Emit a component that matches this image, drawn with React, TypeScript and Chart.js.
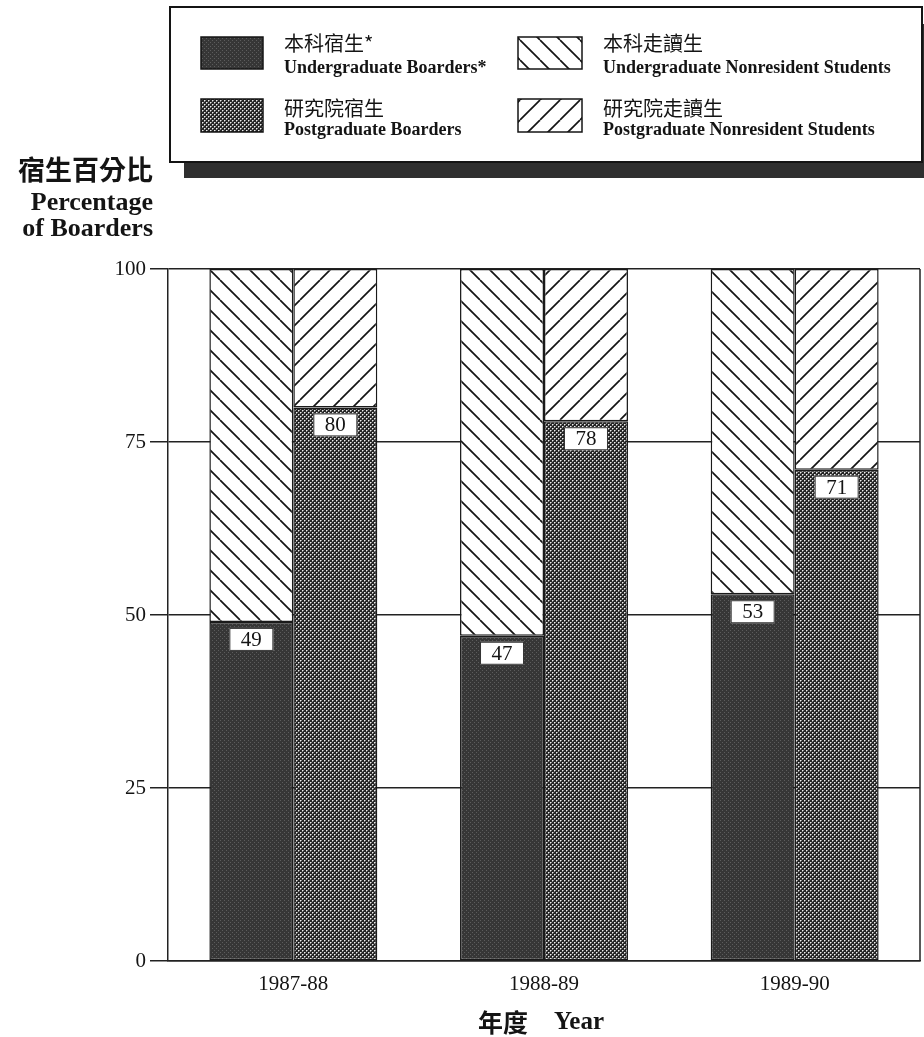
import React, { useEffect, useRef } from "react";
import { Chart, registerables } from "chart.js";

Chart.register(...registerables);

const years = ["1987-88", "1988-89", "1989-90"];
const ugBoarders = [49, 47, 53];
const pgBoarders = [80, 78, 71];
const ugNonresident = [51, 53, 47];
const pgNonresident = [20, 22, 29];
const yTickValues = [0, 25, 50, 75, 100];
const legendCJK = ["本科宿生*", "本科走讀生", "研究院宿生", "研究院走讀生"];
const legendEN = [
  "Undergraduate Boarders*",
  "Undergraduate Nonresident Students",
  "Postgraduate Boarders",
  "Postgraduate Nonresident Students",
];
const yTitleCJK = "宿生百分比";
const yTitleEN = ["Percentage", "of Boarders"];
const xTitleCJK = "年度";
const xTitleEN = "Year";

const SERIF = "'Liberation Serif', 'Times New Roman', serif";
const CJK = "'Noto Sans CJK TC', 'Noto Sans CJK SC', sans-serif";
const INK = "#141414";

function makeTile(w: number, h: number, draw: (g: CanvasRenderingContext2D) => void) {
  const c = document.createElement("canvas");
  c.width = w;
  c.height = h;
  const g = c.getContext("2d")!;
  draw(g);
  return c;
}

function makePatterns(ctx: CanvasRenderingContext2D) {
  const ugTile = makeTile(4, 4, (g) => {
    g.fillStyle = "#363636";
    g.fillRect(0, 0, 4, 4);
    g.fillStyle = "#5c5c5c";
    g.fillRect(0, 0, 1, 1);
    g.fillRect(2, 2, 1, 1);
  });
  const pgTile = makeTile(4, 4, (g) => {
    g.fillStyle = "#262626";
    g.fillRect(0, 0, 4, 4);
    g.fillStyle = "#eeeeee";
    g.fillRect(0, 0, 1, 1);
    g.fillRect(2, 2, 1, 1);
    g.fillStyle = "#8c8c8c";
    g.fillRect(1, 0, 1, 1);
    g.fillRect(3, 2, 1, 1);
    g.fillRect(0, 1, 1, 1);
    g.fillRect(2, 3, 1, 1);
  });
  const hatch = (back: boolean) =>
    makeTile(20, 20, (g) => {
      g.fillStyle = "#ffffff";
      g.fillRect(0, 0, 20, 20);
      g.strokeStyle = "#141414";
      g.lineWidth = 1.7;
      for (const dx of [-20, 0, 20]) {
        g.beginPath();
        if (back) {
          g.moveTo(dx, 0);
          g.lineTo(dx + 20, 20);
        } else {
          g.moveTo(dx, 20);
          g.lineTo(dx + 20, 0);
        }
        g.stroke();
      }
    });
  return {
    ug: ctx.createPattern(ugTile, "repeat")!,
    pg: ctx.createPattern(pgTile, "repeat")!,
    ugN: ctx.createPattern(hatch(true), "repeat")!,
    pgN: ctx.createPattern(hatch(false), "repeat")!,
  };
}

export default function App() {
  const ref = useRef<HTMLCanvasElement | null>(null);

  useEffect(() => {
    const canvas = ref.current!;
    const ctx = canvas.getContext("2d")!;
    const p = makePatterns(ctx);
    const fills = [p.ug, p.ugN, p.pg, p.pgN];

    const decor = {
      id: "decor",
      afterDatasetsDraw(chart: any) {
        const c: CanvasRenderingContext2D = chart.ctx;
        const area = chart.chartArea;
        c.save();
        c.strokeStyle = "#222";
        c.lineWidth = 1.5;
        c.beginPath();
        c.moveTo(area.right, area.top);
        c.lineTo(area.right, area.bottom);
        c.stroke();

        [0, 1].forEach((di) => {
          const meta = chart.getDatasetMeta(di);
          const vals = chart.data.datasets[di].data;
          meta.data.forEach((bar: any, j: number) => {
            const bw = 44, bh = 23;
            const x = bar.x - bw / 2;
            const y = bar.y + 6;
            c.fillStyle = "#fff";
            c.fillRect(x, y, bw, bh);
            c.strokeStyle = "#333";
            c.lineWidth = 1;
            c.strokeRect(x + 0.5, y + 0.5, bw - 1, bh - 1);
            c.fillStyle = INK;
            c.font = `21px ${SERIF}`;
            c.textAlign = "center";
            c.textBaseline = "middle";
            c.fillText(String(vals[j]), bar.x, y + bh / 2 + 1);
          });
        });
        c.restore();
      },
      afterDraw(chart: any) {
        const c: CanvasRenderingContext2D = chart.ctx;
        const area = chart.chartArea;
        c.save();
        c.fillStyle = "#2f2f2f";
        c.fillRect(184, 24, 740, 154);
        c.fillStyle = "#fff";
        c.fillRect(170, 7, 752, 155);
        c.strokeStyle = INK;
        c.lineWidth = 2;
        c.strokeRect(170, 7, 752, 155);

        const cols = [
          { sx: 201, sw: 62, tx: 284 },
          { sx: 518, sw: 64, tx: 603 },
        ];
        const rows = [
          { sy: 37, sh: 32, cy: 43, ey: 68 },
          { sy: 99, sh: 33, cy: 108, ey: 130 },
        ];
        const legendFills = [p.ug, p.ugN, p.pg, p.pgN];
        for (let r = 0; r < 2; r++) {
          for (let k = 0; k < 2; k++) {
            const i = r * 2 + k;
            const col = cols[k];
            const row = rows[r];
            c.fillStyle = legendFills[i];
            c.fillRect(col.sx, row.sy, col.sw, row.sh);
            c.strokeStyle = INK;
            c.lineWidth = 1.5;
            c.strokeRect(col.sx, row.sy, col.sw, row.sh);
            c.fillStyle = INK;
            c.textAlign = "left";
            c.textBaseline = "middle";
            c.font = `20px ${CJK}`;
            c.fillText(legendCJK[i], col.tx, row.cy);
            c.font = `bold 18px ${SERIF}`;
            c.fillText(legendEN[i], col.tx, row.ey);
          }
        }

        c.textAlign = "right";
        c.textBaseline = "middle";
        c.fillStyle = INK;
        c.font = `bold 27px ${CJK}`;
        c.fillText(yTitleCJK, 153, 170);
        c.font = `bold 26px ${SERIF}`;
        c.fillText(yTitleEN[0], 153, 203);
        c.fillText(yTitleEN[1], 153, 229);

        const cx = (area.left + area.right) / 2 - 3;
        c.font = `bold 25px ${CJK}`;
        const w1 = c.measureText(xTitleCJK).width;
        c.font = `bold 25px ${SERIF}`;
        const w2 = c.measureText(xTitleEN).width;
        const gap = 26;
        const start = cx - (w1 + gap + w2) / 2;
        c.textAlign = "left";
        c.font = `bold 25px ${CJK}`;
        c.fillText(xTitleCJK, start, 1022);
        c.font = `bold 25px ${SERIF}`;
        c.fillText(xTitleEN, start + w1 + gap, 1023);
        c.restore();
      },
    };

    const common = {
      borderColor: "#1a1a1a",
      borderWidth: 1.5,
      borderSkipped: false,
      categoryPercentage: 0.67,
      barPercentage: 1.0,
    };

    const chart = new Chart(ctx, {
      type: "bar",
      data: {
        labels: years,
        datasets: [
          { label: legendEN[0], data: ugBoarders, stack: "ug", backgroundColor: fills[0], ...common },
          { label: legendEN[2], data: pgBoarders, stack: "pg", backgroundColor: fills[2], ...common },
          { label: legendEN[1], data: ugNonresident, stack: "ug", backgroundColor: fills[1], ...common },
          { label: legendEN[3], data: pgNonresident, stack: "pg", backgroundColor: fills[3], ...common },
        ] as any,
      },
      options: {
        animation: false,
        responsive: true,
        maintainAspectRatio: false,
        layout: { padding: { top: 269, right: 4, bottom: 0, left: 0 } },
        plugins: {
          legend: { display: false },
          tooltip: { enabled: false },
          title: { display: false },
        },
        scales: {
          x: {
            stacked: true,
            grid: { display: false, drawTicks: false },
            border: { display: true, color: "#222", width: 1.5 },
            ticks: {
              color: INK,
              font: { family: SERIF, size: 21 },
              padding: 11,
              maxRotation: 0,
            },
            afterFit: (s: any) => {
              s.height = 76;
            },
          },
          y: {
            stacked: true,
            min: 0,
            max: 100,
            afterBuildTicks: (s: any) => {
              s.ticks = yTickValues.map((v) => ({ value: v }));
            },
            grid: { color: "#222", lineWidth: 1.5, tickLength: 18, drawTicks: true },
            border: { display: true, color: "#222", width: 1.5 },
            ticks: {
              color: INK,
              font: { family: SERIF, size: 21 },
              padding: 4,
            },
            afterFit: (s: any) => {
              s.width = 168;
            },
          },
        },
      },
      plugins: [decor],
    });

    return () => chart.destroy();
  }, []);

  return (
    <div
      style={{
        position: "fixed",
        left: 0,
        top: 0,
        width: 924,
        height: 1037,
        background: "#fff",
      }}
    >
      <canvas ref={ref} />
    </div>
  );
}
